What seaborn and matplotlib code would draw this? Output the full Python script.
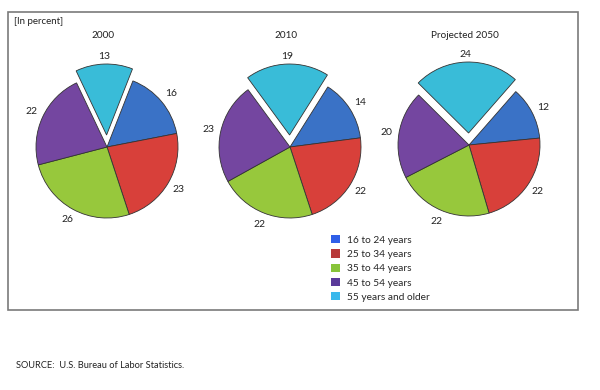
import seaborn as sns
import matplotlib.pyplot as plt
from matplotlib.patches import Rectangle, Patch

# Datos
grupos = ['16 to 24 years', '25 to 34 years', '35 to 44 years',
          '45 to 54 years', '55 years and older']
titulos = ['2000', '2010', 'Projected 2050']
v2000 = [16, 23, 26, 22, 13]
v2010 = [14, 22, 22, 23, 19]
v2050 = [12, 22, 22, 20, 24]

sns.set_theme(style='white')
plt.rcParams['font.family'] = ['Lato', 'DejaVu Sans']

colores = sns.color_palette(['#3a72c6', '#d8403a', '#97c83c', '#7446a0', '#39bcd8'])
colores_leyenda = ['#2f5fe8', '#b83a3a', '#88c43a', '#5a3a9a', '#3ab8ec']

fig = plt.figure(figsize=(6, 3.9), dpi=100)
ax = fig.add_axes([0, 0, 1, 1])

# marco
ax.add_patch(Rectangle((8, 80), 570, 298, fill=False, edgecolor='#7a7a7a', lw=1.2))

centros = [(107, 243), (290, 243), (469, 245)]
for valores, titulo, (cx, cy) in zip([v2000, v2010, v2050], titulos, centros):
    p_ult = valores[-1] / 100
    inicio = 92 - 180 * p_ult
    # explode va en unidades de datos (pixeles aqui)
    wedges, textos, numeros = ax.pie(
        valores, colors=colores, center=(cx, cy), radius=71,
        startangle=inicio, counterclock=False,
        explode=[0, 0, 0, 0, 12],
        autopct=lambda p: f'{p:.0f}', pctdistance=1.17,
        wedgeprops=dict(edgecolor='#333333', linewidth=0.6),
        textprops=dict(fontsize=7.5, color='#222222'), frame=True)
    # la etiqueta del trozo separado queda un poco mas cerca
    x, y = numeros[-1].get_position()
    numeros[-1].set_position((x, y - 5))
    ax.text(cx - 4, 355, titulo, ha='center', va='center', fontsize=7.2, color='#222222')

ax.set_xlim(0, 600)
ax.set_ylim(0, 390)
ax.set_aspect('equal')
ax.axis('off')

ax.text(14, 368, '[In percent]', ha='left', va='center', fontsize=7, color='#222222')

handles = [Patch(facecolor=c, edgecolor='none') for c in colores_leyenda]
ax.legend(handles, grupos, loc='upper left', bbox_to_anchor=(331 / 600, 155 / 390),
          frameon=False, fontsize=7.3, handlelength=0.85, handleheight=0.9,
          handletextpad=0.7, labelspacing=0.45, borderaxespad=0, borderpad=0)

ax.text(16, 24, 'SOURCE:  U.S. Bureau of Labor Statistics.', ha='left', va='center',
        fontsize=6.7, color='#222222')

plt.savefig('out.png', dpi=100)
